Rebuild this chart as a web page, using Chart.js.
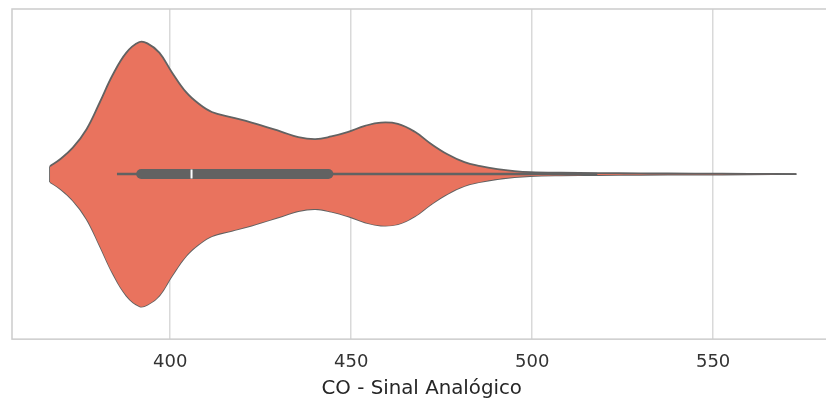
<!DOCTYPE html>
<html>
<head>
<meta charset="utf-8">
<script src="https://cdn.jsdelivr.net/npm/chart.js@4/dist/chart.umd.min.js"></script>
<style>
  html, body { margin: 0; padding: 0; background: #fff; overflow: hidden; }
  /* mais largo que a janela: a borda direita do eixo fica cortada, como no original */
  #wrap { width: 838px; height: 401px; }
</style>
</head>
<body>
<div id="wrap"><canvas id="violino"></canvas></div>
<script>
// perfil do violino (CO - sinal analógico) e densidade relativa (max = 1)
var valoresCO = [366.8, 369.5, 373.1, 376.9, 380.5, 384.1, 387.9, 391.5, 393.7, 397.0, 400.5, 404.4, 408.0, 411.5, 417.0, 422.5, 430.8, 435.4, 440.1, 444.5, 449.2, 453.8, 458.2, 462.9, 467.6, 472.0, 476.6, 481.3, 485.7, 490.4, 495.1, 499.5, 508, 518, 530, 545, 560, 573];
var densidade = [0.06, 0.11, 0.20, 0.34, 0.54, 0.75, 0.92, 1.00, 0.99, 0.92, 0.77, 0.62, 0.53, 0.47, 0.43, 0.39, 0.32, 0.28, 0.265, 0.285, 0.32, 0.365, 0.39, 0.38, 0.32, 0.23, 0.15, 0.09, 0.06, 0.038, 0.023, 0.015, 0.01, 0.0075, 0.005, 0.004, 0.002, 0];

// box interno: bigodes, quartis e mediana
var bigodes = [385.3, 518];
var quartis = [392.0, 443.7];
var mediana = 405.9;

var ticksX = [400, 450, 500, 550];
var tituloX = 'CO - Sinal Analógico';

var larguraViolino = 0.4;
var corViolino = '#e9735e';
var corCinza = '#626262';

var superior = valoresCO.map(function (v, i) { return { x: v, y: densidade[i] * larguraViolino }; });
var inferior = valoresCO.map(function (v, i) { return { x: v, y: -densidade[i] * larguraViolino }; });
var corte = [
    { x: valoresCO[0], y: densidade[0] * larguraViolino },
    { x: valoresCO[0], y: -densidade[0] * larguraViolino }
];

var moldura = {
    id: 'moldura',
    afterDraw: function (chart) {
        var a = chart.chartArea;
        var ctx = chart.ctx;
        ctx.save();
        ctx.strokeStyle = '#cccccc';
        ctx.lineWidth = 1.5;
        ctx.strokeRect(a.left, a.top, a.right - a.left, a.bottom - a.top);
        ctx.restore();
    }
};

var ctx = document.getElementById('violino').getContext('2d');
new Chart(ctx, {
    type: 'line',
    data: {
        datasets: [
            {
                data: [{ x: mediana, y: 0 }],
                type: 'scatter',
                pointStyle: 'line',
                rotation: 90,
                radius: 4.5,
                borderColor: '#ffffff',
                borderWidth: 2,
                order: 0
            },
            {
                data: [{ x: quartis[0], y: 0 }, { x: quartis[1], y: 0 }],
                borderColor: corCinza,
                borderWidth: 10,
                borderCapStyle: 'round',
                pointRadius: 0,
                order: 1
            },
            {
                data: [{ x: bigodes[0], y: 0 }, { x: bigodes[1], y: 0 }],
                borderColor: corCinza,
                borderWidth: 2.5,
                pointRadius: 0,
                order: 2
            },
            {
                data: superior,
                borderColor: corCinza,
                borderWidth: 1.8,
                backgroundColor: corViolino,
                fill: '+1',
                tension: 0.4,
                pointRadius: 0,
                order: 3
            },
            {
                data: inferior,
                borderColor: corCinza,
                borderWidth: 1.8,
                tension: 0.4,
                pointRadius: 0,
                fill: false,
                order: 4
            },
            {
                data: corte,
                borderColor: corCinza,
                borderWidth: 1.8,
                pointRadius: 0,
                fill: false,
                order: 5
            }
        ]
    },
    options: {
        responsive: true,
        maintainAspectRatio: false,
        animation: false,
        layout: { padding: { left: 12, right: 2, top: 9, bottom: 0 } },
        plugins: {
            legend: { display: false },
            tooltip: { enabled: false }
        },
        scales: {
            x: {
                type: 'linear',
                min: 356.3,
                max: 582.7,
                afterBuildTicks: function (axis) {
                    axis.ticks = ticksX.map(function (v) { return { value: v }; });
                },
                grid: { color: '#d9d9d9', lineWidth: 1.5, drawTicks: false },
                border: { display: false },
                ticks: {
                    padding: 12.5,
                    color: '#333333',
                    font: { family: 'DejaVu Sans', size: 18 }
                },
                title: {
                    display: true,
                    text: tituloX,
                    color: '#262626',
                    font: { family: 'DejaVu Sans', size: 19.8 },
                    padding: { top: -8.5, bottom: 0 }
                }
            },
            y: {
                type: 'linear',
                display: false,
                min: -0.5,
                max: 0.5
            }
        }
    },
    plugins: [moldura]
});
</script>
</body>
</html>
